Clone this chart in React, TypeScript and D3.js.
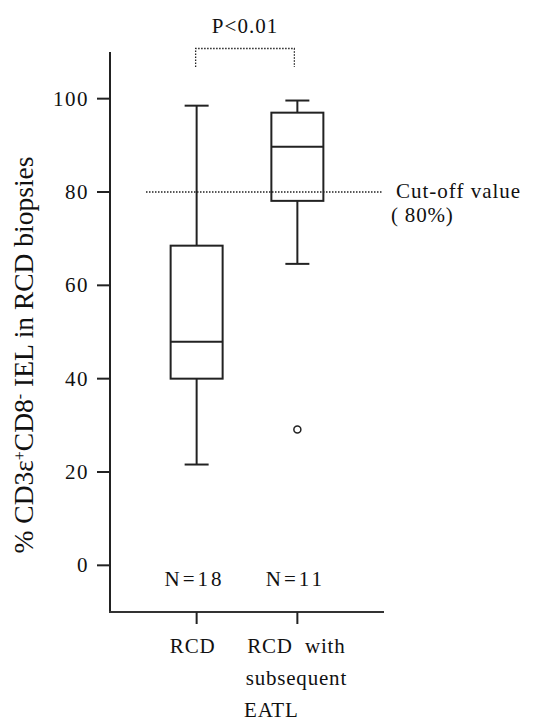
import React from "react";
import * as d3 from "d3";

const groups = ["RCD", "RCD with subsequent EATL"];
const groupLines = [["RCD"], ["RCD\u00a0\u00a0with", "subsequent", "EATL"]];
const nLabels = ["N=18", "N=11"];
const whiskerLow = [21.6, 64.6];
const q1 = [40.0, 78.1];
const median = [47.9, 89.7];
const q3 = [68.5, 97.0];
const whiskerHigh = [98.5, 99.6];
const outliers = [[], [29.1]];
const yTicks = [0, 20, 40, 60, 80, 100];
const cutOff = 80;

const FONT = "Liberation Serif";
const ink = "#222";
const textStyle = { fontFamily: FONT, fontSize: 21 };

export default function App() {
  const width = 534;
  const height = 722;
  const left = 110;
  const right = 384;
  const y = d3.scaleLinear().domain([-10, 110]).range([612, 52]);
  const x = d3.scalePoint<string>().domain(groups).range([left, right]).padding(0.86);
  const boxW = 52;
  const capW = 24;
  const bx1 = x(groups[0])! - 1;
  const bx2 = x(groups[1])! - 3;

  return (
    <div style={{ position: "absolute", left: 0, top: 0, background: "#fff" }}>
      <svg width={width} height={height} style={{ display: "block" }}>
        {/* axes */}
        <line x1={left} x2={left} y1={y(110)} y2={y(-10)} stroke={ink} strokeWidth={2} />
        <line x1={left - 1} x2={right} y1={y(-10)} y2={y(-10)} stroke="#333" strokeWidth={2} />
        {yTicks.map((t) => (
          <g key={t}>
            <line x1={left - 13} x2={left} y1={y(t)} y2={y(t)} stroke={ink} strokeWidth={2} />
            <text x={left - 21} y={y(t) + 7} textAnchor="end" letterSpacing={1.5} fill="#111" style={textStyle}>
              {t}
            </text>
          </g>
        ))}
        {groups.map((g, i) => {
          const cx = x(g)!;
          return (
            <g key={g}>
              <line x1={cx} x2={cx} y1={y(-10)} y2={y(-10) + 12} stroke={ink} strokeWidth={2} />
              {groupLines[i].map((ln, j) => (
                <text
                  key={ln}
                  x={cx + (i === 0 ? -4 : j === 2 ? -26 : -1)}
                  y={653 + j * 32}
                  textAnchor="middle"
                  letterSpacing={0.8}
                  fill="#111"
                  style={textStyle}
                >
                  {ln}
                </text>
              ))}
              <text x={cx - 2} y={586} textAnchor="middle" letterSpacing={3} fill="#111" style={textStyle}>
                {nLabels[i]}
              </text>
            </g>
          );
        })}

        {/* cut-off line */}
        <line x1={146} x2={382} y1={y(cutOff)} y2={y(cutOff)} stroke={ink} strokeWidth={1.3} strokeDasharray="1.5,1.5" />
        <text x={396} y={y(cutOff) + 6} letterSpacing={1} fill="#111" style={textStyle}>
          Cut-off value
        </text>
        <text x={391} y={y(cutOff) + 30} letterSpacing={0.8} fill="#111" style={textStyle}>
          {"(\u00a080%)"}
        </text>

        {/* boxes */}
        {groups.map((g, i) => {
          const cx = x(g)!;
          return (
            <g key={g} stroke={ink} strokeWidth={2} fill="none">
              <line x1={cx} x2={cx} y1={y(whiskerHigh[i])} y2={y(q3[i])} />
              <line x1={cx} x2={cx} y1={y(q1[i])} y2={y(whiskerLow[i])} />
              <line x1={cx - capW / 2} x2={cx + capW / 2} y1={y(whiskerHigh[i])} y2={y(whiskerHigh[i])} />
              <line x1={cx - capW / 2} x2={cx + capW / 2} y1={y(whiskerLow[i])} y2={y(whiskerLow[i])} />
              <rect x={cx - boxW / 2} width={boxW} y={y(q3[i])} height={y(q1[i]) - y(q3[i])} />
              <line x1={cx - boxW / 2} x2={cx + boxW / 2} y1={y(median[i])} y2={y(median[i])} />
              {outliers[i].map((o) => (
                <circle key={o} cx={cx} cy={y(o)} r={3.5} strokeWidth={1.5} />
              ))}
            </g>
          );
        })}

        {/* significance bracket */}
        <path
          d={`M${bx1},67 L${bx1},48.5 L${bx2},48.5 L${bx2},67`}
          fill="none"
          stroke={ink}
          strokeWidth={1.3}
          strokeDasharray="1.5,1.5"
        />
        <text x={(bx1 + bx2) / 2} y={33} textAnchor="middle" letterSpacing={1} fill="#111" style={textStyle}>
          P&lt;0.01
        </text>

        {/* y label */}
        <text
          transform="translate(33,355) rotate(-90)"
          textAnchor="middle"
          fill="#111"
          style={{ fontFamily: FONT, fontSize: 27.5 }}
        >
          <tspan>% CD3ε</tspan>
          <tspan baselineShift="super" style={{ fontSize: 16 }}>+</tspan>
          <tspan>CD8</tspan>
          <tspan baselineShift="super" style={{ fontSize: 16 }}>-</tspan>
          <tspan>{" IEL in RCD biopsies"}</tspan>
        </text>
      </svg>
    </div>
  );
}
